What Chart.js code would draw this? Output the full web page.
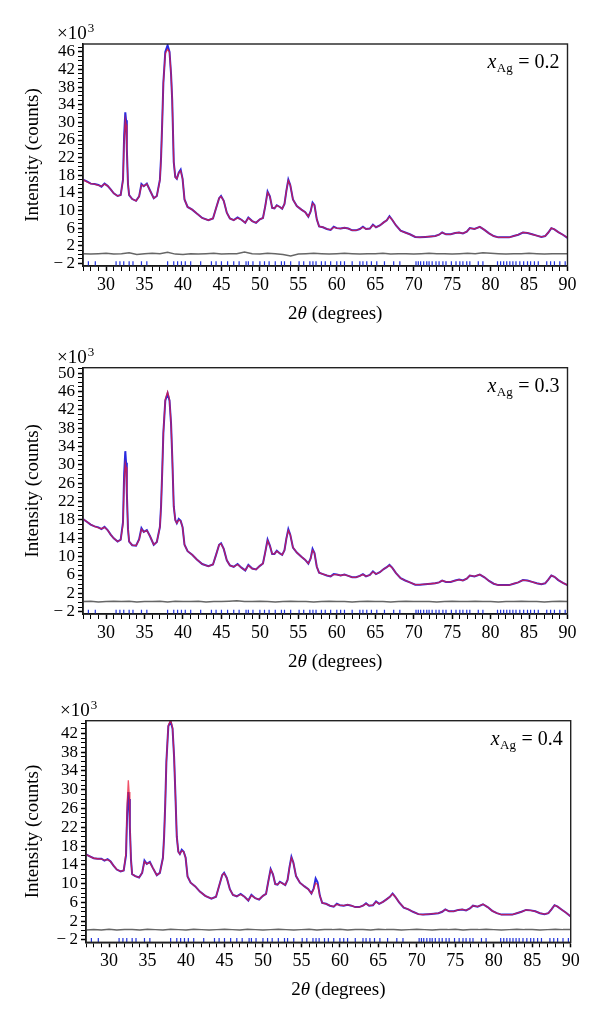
<!DOCTYPE html>
<html>
<head>
<meta charset="utf-8">
<script src="https://cdn.jsdelivr.net/npm/chart.js@4/dist/chart.umd.min.js"></script>
<style>
  body { margin: 0; background: #fff; }
  .panel { position: absolute; left: 0; }
</style>
</head>
<body>
<div class="panel" style="top:0px"><canvas id="c1" width="600" height="330"></canvas></div>
<div class="panel" style="top:330px"><canvas id="c2" width="600" height="345"></canvas></div>
<div class="panel" style="top:675px"><canvas id="c3" width="600" height="348"></canvas></div>
<script>
// 2theta grid shared by the three patterns (degrees)
var tth = [
  27.0, 27.5, 28.0, 28.5, 29.0, 29.4, 29.8, 30.2, 30.6, 31.0,
  31.5, 31.9, 32.2, 32.35, 32.5, 32.6, 32.7, 32.85, 33.0, 33.4,
  33.9, 34.3, 34.6, 34.9, 35.3, 35.7, 36.2, 36.6, 37.0, 37.15,
  37.3, 37.45, 37.7, 38.0, 38.25, 38.45, 38.6, 38.8, 39.0, 39.2,
  39.45, 39.7, 39.95, 40.2, 40.6, 41.2, 41.8, 42.5, 43.3, 43.9,
  44.3, 44.7, 44.95, 45.3, 45.7, 46.1, 46.6, 47.1, 47.6, 48.1,
  48.5, 49.0, 49.5, 50.0, 50.4, 50.7, 51.0, 51.3, 51.6, 51.9,
  52.2, 52.6, 52.9, 53.2, 53.45, 53.7, 53.95, 54.3, 54.8, 55.4,
  55.9, 56.3, 56.6, 56.85, 57.1, 57.4, 57.7, 58.2, 58.7, 59.2,
  59.6, 60.0, 60.5, 61.0, 61.5, 62.0, 62.5, 63.0, 63.4, 63.8,
  64.3, 64.7, 65.1, 65.6, 66.1, 66.5, 66.85, 67.2, 67.7, 68.3,
  68.9, 69.5, 70.2, 70.8, 71.5, 72.2, 72.8, 73.3, 73.7, 74.2,
  74.8, 75.4, 75.9, 76.4, 76.9, 77.3, 77.9, 78.6, 79.2, 79.8,
  80.4, 81.0, 81.7, 82.4, 83.0, 83.6, 84.2, 84.8, 85.4, 86.0,
  86.6, 87.1, 87.5, 87.9, 88.3, 88.8, 89.4, 90.0
];

// xAg = 0.2 (x10^3 counts)
var obs1 = [
  17.0, 16.6, 16.1, 16.0, 15.8, 15.4, 16.1, 15.6, 14.8, 13.9,
  13.3, 13.5, 17.0, 27.0, 32.3, 30.5, 24.0, 16.0, 13.5, 12.6,
  12.2, 13.2, 16.0, 15.5, 16.1, 14.6, 12.8, 13.3, 17.0, 22.0,
  30.0, 39.0, 46.0, 47.5, 46.0, 41.0, 35.0, 21.0, 17.6, 17.2,
  18.6, 19.3, 17.2, 12.5, 10.8, 10.2, 9.3, 8.3, 7.8, 8.2,
  10.5, 12.8, 13.3, 12.2, 9.5, 8.2, 7.8, 8.4, 7.9, 7.2,
  8.4, 7.6, 7.2, 8.0, 8.3, 11.0, 14.3, 13.2, 10.6, 10.5,
  11.2, 10.8, 10.4, 11.5, 14.5, 17.0, 15.8, 12.5, 11.0, 10.2,
  9.6, 8.6, 9.8, 11.8, 11.2, 8.0, 6.4, 6.2, 5.8, 5.6,
  6.3, 6.0, 5.9, 6.1, 5.9, 5.5, 5.5, 5.8, 6.3, 5.8,
  5.9, 6.8, 6.2, 6.6, 7.3, 7.8, 8.7, 7.9, 6.6, 5.4,
  5.0, 4.6, 4.0, 3.9, 4.0, 4.1, 4.2, 4.5, 5.0, 4.6,
  4.6, 4.9, 5.0, 4.8, 5.2, 6.0, 5.8, 6.3, 5.6, 4.8,
  4.2, 3.9, 3.9, 3.9, 4.2, 4.5, 5.0, 4.9, 4.6, 4.3,
  4.0, 4.2, 5.0, 6.0, 5.7, 5.1, 4.5, 3.8
];
var calc1 = [
  17.0, 16.5, 16.1, 16.0, 15.7, 15.5, 16.0, 15.6, 14.8, 13.9,
  13.3, 13.5, 16.8, 26.0, 30.6, 29.5, 23.5, 16.0, 13.5, 12.6,
  12.2, 13.2, 15.8, 15.5, 16.0, 14.6, 12.8, 13.3, 16.8, 21.8,
  30.0, 39.0, 45.6, 46.6, 46.0, 41.0, 35.0, 21.0, 17.6, 17.2,
  18.5, 19.0, 17.2, 12.5, 10.8, 10.2, 9.3, 8.3, 7.8, 8.2,
  10.5, 12.8, 13.2, 12.2, 9.5, 8.2, 7.8, 8.3, 7.9, 7.2,
  8.3, 7.6, 7.2, 8.0, 8.3, 11.0, 14.1, 13.2, 10.6, 10.5,
  11.1, 10.8, 10.4, 11.5, 14.5, 16.8, 15.8, 12.5, 11.0, 10.2,
  9.6, 8.6, 9.8, 11.6, 11.2, 8.0, 6.4, 6.2, 5.8, 5.6,
  6.2, 6.0, 5.9, 6.1, 5.9, 5.5, 5.5, 5.8, 6.2, 5.8,
  5.9, 6.7, 6.2, 6.6, 7.3, 7.8, 8.6, 7.9, 6.6, 5.4,
  5.0, 4.6, 4.0, 3.9, 4.0, 4.1, 4.2, 4.5, 5.0, 4.6,
  4.6, 4.9, 5.0, 4.8, 5.2, 6.0, 5.8, 6.3, 5.6, 4.8,
  4.2, 3.9, 3.9, 3.9, 4.2, 4.5, 5.0, 4.9, 4.6, 4.3,
  4.0, 4.2, 5.0, 6.0, 5.7, 5.1, 4.5, 3.8
];

// xAg = 0.3
var obs2 = [
  18.2, 17.6, 17.0, 16.6, 16.4, 16.0, 16.5, 15.8, 14.8, 14.0,
  13.3, 13.7, 17.5, 28.0, 33.0, 30.5, 24.0, 16.0, 13.3, 12.5,
  12.4, 13.8, 16.2, 15.4, 15.8, 14.5, 12.6, 13.2, 16.5, 21.0,
  28.5, 37.0, 44.0, 45.6, 44.0, 39.0, 32.0, 21.0, 18.0, 17.3,
  18.2, 17.8, 16.4, 12.6, 11.2, 10.4, 9.4, 8.4, 7.9, 8.3,
  10.4, 12.6, 12.9, 11.7, 9.2, 8.1, 7.8, 8.4, 7.6, 7.0,
  8.2, 7.4, 7.2, 8.0, 8.5, 11.0, 13.7, 12.4, 10.6, 10.6,
  11.3, 10.7, 10.4, 11.4, 14.0, 16.0, 14.8, 12.0, 10.9, 10.0,
  9.3, 8.5, 9.6, 11.7, 10.8, 7.8, 6.5, 6.2, 5.9, 5.7,
  6.2, 6.1, 5.9, 6.1, 5.8, 5.5, 5.5, 5.8, 6.2, 5.7,
  6.0, 6.8, 6.2, 6.6, 7.3, 7.7, 8.2, 7.6, 6.4, 5.3,
  4.8, 4.4, 3.9, 3.9, 4.0, 4.1, 4.2, 4.4, 4.8, 4.5,
  4.5, 4.8, 5.0, 4.8, 5.2, 5.9, 5.7, 6.1, 5.5, 4.7,
  4.1, 3.8, 3.8, 3.8, 4.1, 4.4, 4.9, 4.8, 4.5, 4.2,
  4.0, 4.2, 5.0, 5.9, 5.6, 4.9, 4.3, 3.8
];
var calc2 = [
  18.2, 17.6, 17.0, 16.6, 16.3, 16.1, 16.4, 15.8, 14.8, 14.0,
  13.3, 13.7, 17.0, 26.5, 30.3, 29.5, 23.5, 16.0, 13.3, 12.5,
  12.4, 13.7, 16.0, 15.4, 15.7, 14.5, 12.6, 13.2, 16.4, 21.0,
  28.5, 37.0, 44.3, 45.9, 44.2, 39.0, 32.0, 21.0, 18.0, 17.3,
  18.0, 17.8, 16.4, 12.6, 11.2, 10.4, 9.4, 8.4, 7.9, 8.3,
  10.4, 12.6, 12.8, 11.7, 9.2, 8.1, 7.8, 8.3, 7.6, 7.0,
  8.1, 7.4, 7.2, 8.0, 8.5, 11.0, 13.5, 12.4, 10.6, 10.6,
  11.2, 10.7, 10.4, 11.4, 14.0, 15.7, 14.8, 12.0, 10.9, 10.0,
  9.3, 8.5, 9.6, 11.4, 10.8, 7.8, 6.5, 6.2, 5.9, 5.7,
  6.1, 6.1, 5.9, 6.1, 5.8, 5.5, 5.5, 5.8, 6.1, 5.7,
  6.0, 6.7, 6.2, 6.6, 7.3, 7.7, 8.1, 7.6, 6.4, 5.3,
  4.8, 4.4, 3.9, 3.9, 4.0, 4.1, 4.2, 4.4, 4.8, 4.5,
  4.5, 4.8, 5.0, 4.8, 5.2, 5.9, 5.7, 6.1, 5.5, 4.7,
  4.1, 3.8, 3.8, 3.8, 4.1, 4.4, 4.9, 4.8, 4.5, 4.2,
  4.0, 4.2, 5.0, 5.9, 5.6, 4.9, 4.3, 3.8
];

// xAg = 0.4
var obs3 = [
  16.2, 15.8, 15.4, 15.3, 15.3, 14.9, 15.2, 14.7, 13.8, 13.0,
  12.6, 12.8, 16.0, 25.0, 29.5, 28.0, 22.0, 15.0, 12.0, 11.6,
  11.3, 12.3, 14.9, 14.2, 14.6, 13.3, 11.8, 12.3, 15.5, 20.0,
  27.0, 36.0, 43.5, 44.6, 43.0, 37.0, 30.0, 20.0, 16.8, 16.3,
  17.2, 16.8, 15.5, 11.5, 10.2, 9.4, 8.3, 7.4, 6.8, 7.2,
  9.5, 11.8, 12.3, 11.2, 8.8, 7.6, 7.3, 7.8, 7.2, 6.4,
  7.6, 6.9, 6.6, 7.4, 7.8, 10.5, 13.1, 12.0, 9.9, 9.8,
  10.4, 10.0, 9.7, 10.8, 13.5, 15.7, 14.5, 11.6, 10.2, 9.4,
  8.8, 7.9, 9.0, 11.1, 10.3, 7.4, 5.9, 5.7, 5.3, 5.1,
  5.7, 5.4, 5.3, 5.5, 5.3, 5.0, 5.0, 5.3, 5.8, 5.3,
  5.4, 6.2, 5.7, 6.1, 6.7, 7.2, 7.9, 7.2, 6.0, 4.9,
  4.5, 4.0, 3.5, 3.4, 3.5, 3.6, 3.7, 4.0, 4.5, 4.1,
  4.1, 4.4, 4.5, 4.3, 4.7, 5.3, 5.1, 5.6, 5.0, 4.2,
  3.7, 3.4, 3.4, 3.4, 3.7, 4.0, 4.4, 4.3, 4.1, 3.7,
  3.5, 3.7, 4.5, 5.4, 5.1, 4.5, 3.8, 3.0
];
var calc3 = [
  16.2, 15.8, 15.4, 15.3, 15.2, 15.0, 15.1, 14.7, 13.8, 13.0,
  12.6, 12.8, 16.5, 27.0, 32.0, 29.5, 22.5, 15.0, 12.0, 11.6,
  11.3, 12.3, 14.7, 14.2, 14.5, 13.3, 11.8, 12.3, 15.4, 20.0,
  27.0, 36.0, 43.7, 44.8, 43.2, 37.0, 30.0, 20.0, 16.8, 16.3,
  17.0, 16.8, 15.5, 11.5, 10.2, 9.4, 8.3, 7.4, 6.8, 7.2,
  9.5, 11.8, 12.2, 11.2, 8.8, 7.6, 7.3, 7.7, 7.2, 6.4,
  7.5, 6.9, 6.6, 7.4, 7.8, 10.5, 13.0, 12.0, 9.9, 9.8,
  10.3, 10.0, 9.7, 10.8, 13.4, 15.5, 14.5, 11.6, 10.2, 9.4,
  8.8, 7.9, 8.8, 10.1, 9.8, 7.4, 5.9, 5.7, 5.3, 5.1,
  5.6, 5.4, 5.3, 5.5, 5.3, 5.0, 5.0, 5.3, 5.7, 5.3,
  5.4, 6.1, 5.7, 6.1, 6.7, 7.2, 7.8, 7.2, 6.0, 4.9,
  4.5, 4.0, 3.5, 3.4, 3.5, 3.6, 3.7, 4.0, 4.5, 4.1,
  4.1, 4.4, 4.5, 4.3, 4.7, 5.3, 5.1, 5.6, 5.0, 4.2,
  3.7, 3.4, 3.4, 3.4, 3.7, 4.0, 4.4, 4.3, 4.1, 3.7,
  3.5, 3.7, 4.5, 5.4, 5.1, 4.5, 3.8, 3.0
];

// difference curves (obs - calc), one value per degree
var diffX = [
  27, 28, 29, 30, 31, 32, 33, 34, 35, 36, 37, 38, 39, 40, 41, 42,
  43, 44, 45, 46, 47, 48, 49, 50, 51, 52, 53, 54, 55, 56, 57, 58,
  59, 60, 61, 62, 63, 64, 65, 66, 67, 68, 69, 70, 71, 72, 73, 74,
  75, 76, 77, 78, 79, 80, 81, 82, 83, 84, 85, 86, 87, 88, 89, 90
];
var diff1 = [
  0.2, 0.1, 0.2, 0.3, 0.1, 0.2, 0.4, 0.0, 0.2, 0.3, 0.2, 0.5, 0.1, 0.0, 0.2, 0.1,
  0.2, 0.3, 0.1, 0.2, 0.2, 0.6, 0.2, 0.1, 0.3, 0.2, 0.0, -0.3, 0.1, 0.2, 0.3, 0.2,
  0.1, 0.2, 0.3, 0.2, 0.1, 0.2, 0.2, 0.3, 0.1, 0.2, 0.2, 0.1, 0.2, 0.3, 0.2, 0.2,
  0.1, 0.2, 0.3, 0.2, 0.4, 0.3, 0.2, 0.1, 0.2, 0.2, 0.3, 0.2, 0.1, 0.2, 0.2, 0.2
];
var diff2 = [
  0.2, 0.3, 0.1, 0.2, 0.3, 0.2, 0.3, 0.1, 0.2, 0.2, 0.3, 0.1, 0.3, 0.2, 0.2, 0.3,
  0.1, 0.2, 0.2, 0.3, 0.4, 0.2, 0.2, 0.3, 0.2, 0.1, 0.2, 0.3, 0.2, 0.2, 0.1, 0.2,
  0.3, 0.2, 0.2, 0.1, 0.2, 0.3, 0.2, 0.2, 0.1, 0.2, 0.3, 0.2, 0.2, 0.2, 0.1, 0.2,
  0.3, 0.2, 0.2, 0.3, 0.2, 0.2, 0.1, 0.2, 0.2, 0.3, 0.2, 0.2, 0.1, 0.2, 0.3, 0.2
];
var diff3 = [
  0.1, 0.2, 0.1, 0.3, 0.1, 0.2, 0.2, 0.1, 0.3, 0.2, 0.1, 0.3, 0.2, 0.1, 0.3, 0.2,
  0.1, 0.2, 0.3, 0.2, 0.1, 0.3, 0.2, 0.1, 0.2, 0.3, 0.2, 0.1, 0.2, 0.3, 0.1, 0.2,
  0.2, 0.3, 0.1, 0.2, 0.2, 0.1, 0.3, 0.2, 0.2, 0.1, 0.2, 0.3, 0.2, 0.1, 0.2, 0.2,
  0.3, 0.1, 0.2, 0.2, 0.3, 0.2, 0.1, 0.2, 0.3, 0.2, 0.2, 0.1, 0.2, 0.3, 0.2, 0.2
];

// Bragg reflection positions (degrees)
var braggPos = [
  27.7, 28.6, 31.3, 31.8, 32.3, 33.0, 33.5, 34.6, 35.3, 38.0, 38.8, 39.3, 39.8,
  40.3, 41.0, 42.3, 43.7, 44.3, 45.0, 45.8, 46.6, 47.3, 48.2, 48.5, 49.1, 50.0,
  50.6, 51.2, 52.0, 52.8, 53.2, 54.0, 55.1, 55.7, 56.5, 56.9, 57.3, 58.0, 58.5,
  59.2, 60.0, 60.5, 61.0, 62.0, 63.0, 63.4, 63.9, 64.5, 65.2, 66.2, 67.4, 68.2,
  70.3, 70.6, 70.9, 71.3, 71.7, 72.0, 72.4, 72.9, 73.3, 73.8, 74.2, 74.9, 75.5,
  76.0, 76.4, 76.9, 77.3, 78.4, 79.0, 80.9, 81.3, 81.7, 82.1, 82.5, 82.9, 83.3,
  83.8, 84.3, 84.8, 85.2, 85.7, 86.2, 87.3, 87.8, 88.3, 89.0, 89.7
];

var xTickLabels = [30, 35, 40, 45, 50, 55, 60, 65, 70, 75, 80, 85, 90];
var yTickLabels1 = [-2, 2, 6, 10, 14, 18, 22, 26, 30, 34, 38, 42, 46];
var yTickLabels2 = [-2, 2, 6, 10, 14, 18, 22, 26, 30, 34, 38, 42, 46, 50];
var yTickLabels3 = [-2, 2, 6, 10, 14, 18, 22, 26, 30, 34, 38, 42];
var compositions = ['0.2', '0.3', '0.4'];

var SERIF = '"Liberation Serif", "DejaVu Serif", serif';

function pts(xs, ys) {
  return xs.map(function (x, i) { return {x: x, y: ys[i]}; });
}

// every whole unit gets a tick, only listed values get a label
function unitTicks(scale) {
  var out = [];
  for (var v = Math.ceil(scale.min); v <= Math.floor(scale.max); v++) out.push({value: v});
  scale.ticks = out;
}

var decor = {
  id: 'decor',
  afterDraw: function (chart, args, o) {
    var ctx = chart.ctx, a = chart.chartArea;
    ctx.save();
    ctx.strokeStyle = '#222';
    ctx.lineWidth = 1.4;
    ctx.strokeRect(a.left, a.top, a.right - a.left, a.bottom - a.top);

    ctx.fillStyle = '#000';
    ctx.textBaseline = 'alphabetic';
    ctx.textAlign = 'left';

    // x10^3 multiplier
    ctx.font = '19px ' + SERIF;
    var mx = a.left - 26;
    ctx.fillText('\u00d710', mx, a.top - 5);
    mx += ctx.measureText('\u00d710').width;
    ctx.font = '13px ' + SERIF;
    ctx.fillText('3', mx + 1, a.top - 12);

    // composition label
    var f1 = 'italic 20px ' + SERIF, f2 = '13px ' + SERIF, f3 = '20px ' + SERIF;
    var t3 = ' = ' + o.comp;
    ctx.font = f1; var w1 = ctx.measureText('x').width;
    ctx.font = f2; var w2 = ctx.measureText('Ag').width;
    ctx.font = f3; var w3 = ctx.measureText(t3).width;
    var lx = a.right - 9 - (w1 + w2 + w3), ly = a.top + 24;
    ctx.font = f1; ctx.fillText('x', lx, ly);
    ctx.font = f2; ctx.fillText('Ag', lx + w1 + 0.5, ly + 4);
    ctx.font = f3; ctx.fillText(t3, lx + w1 + w2 + 1, ly);

    // x axis title
    var g1 = '19px ' + SERIF, g2 = 'italic 19px ' + SERIF;
    ctx.font = g1; var v1 = ctx.measureText('2').width, v3 = ctx.measureText(' (degrees)').width;
    ctx.font = g2; var v2 = ctx.measureText('\u03b8').width;
    var tx = (a.left + a.right) / 2 + 10 - (v1 + v2 + v3) / 2, ty = a.bottom + 53;
    ctx.font = g1; ctx.fillText('2', tx, ty);
    ctx.font = g2; ctx.fillText('\u03b8', tx + v1, ty);
    ctx.font = g1; ctx.fillText(' (degrees)', tx + v1 + v2, ty);
    ctx.restore();
  }
};

function makePanel(id, obs, calc, diff, yLabels, comp, g) {
  new Chart(document.getElementById(id), {
    type: 'line',
    data: {
      datasets: [
        {data: pts(tth, calc), borderColor: 'rgba(235,25,55,0.75)', borderWidth: 1.3, pointRadius: 0},
        {data: pts(tth, obs), borderColor: '#2a2ae0', borderWidth: 2, pointRadius: 0},
        {data: pts(diffX, diff), borderColor: '#666', borderWidth: 1.5, pointRadius: 0},
        {data: braggPos.map(function (p) { return {x: p, y: -2.1}; }), showLine: false,
         pointStyle: 'line', rotation: 90, pointRadius: 2.5, borderColor: '#2233dd',
         borderWidth: 1.2}
      ]
    },
    options: {
      responsive: false,
      animation: false,
      events: [],
      layout: {padding: {top: g.top, right: g.right, left: 0, bottom: 0}},
      plugins: {legend: {display: false}, tooltip: {enabled: false}, decor: {comp: comp}},
      scales: {
        x: {
          type: 'linear', min: 27, max: 90,
          afterBuildTicks: unitTicks,
          afterFit: function (s) { s.height = g.xh; },
          grid: {drawOnChartArea: false, tickLength: 5, color: '#000',
                 tickWidth: function (c) { return xTickLabels.indexOf(c.tick.value) >= 0 ? 1.5 : 1; }},
          border: {color: '#000', width: 1.5},
          ticks: {
            autoSkip: false, maxRotation: 0, minRotation: 0, padding: 3, color: '#000',
            font: {family: SERIF, size: 18},
            callback: function (v) { return xTickLabels.indexOf(v) >= 0 ? String(v) : ''; }
          }
        },
        y: {
          type: 'linear', min: g.ymin, max: g.ymax,
          afterBuildTicks: unitTicks,
          afterFit: function (s) { s.width = g.left; },
          grid: {drawOnChartArea: false, tickLength: 5, color: '#000',
                 tickWidth: function (c) { return yLabels.indexOf(c.tick.value) >= 0 ? 1.5 : 1; }},
          border: {color: '#000', width: 1.5},
          title: {display: true, text: 'Intensity (counts)', color: '#000',
                  font: {family: SERIF, size: 19}, padding: {top: 22, bottom: 0}},
          ticks: {
            autoSkip: false, padding: 3, color: '#000',
            font: {family: SERIF, size: 17},
            callback: function (v) {
              if (yLabels.indexOf(v) < 0) return '';
              return v < 0 ? '\u2212\u2009' + (-v) : String(v);
            }
          }
        }
      }
    },
    plugins: [decor]
  });
}

makePanel('c1', obs1, calc1, diff1, yTickLabels1, compositions[0],
  {top: 44, right: 32.5, left: 83, xh: 64, ymin: -2.6, ymax: 47.8});
makePanel('c2', obs2, calc2, diff2, yTickLabels2, compositions[1],
  {top: 37.7, right: 32.5, left: 83, xh: 61, ymin: -2.5, ymax: 51.2});
makePanel('c3', obs3, calc3, diff3, yTickLabels3, compositions[2],
  {top: 45.7, right: 29.3, left: 86, xh: 80.7, ymin: -2.5, ymax: 44.7});
</script>
</body>
</html>
